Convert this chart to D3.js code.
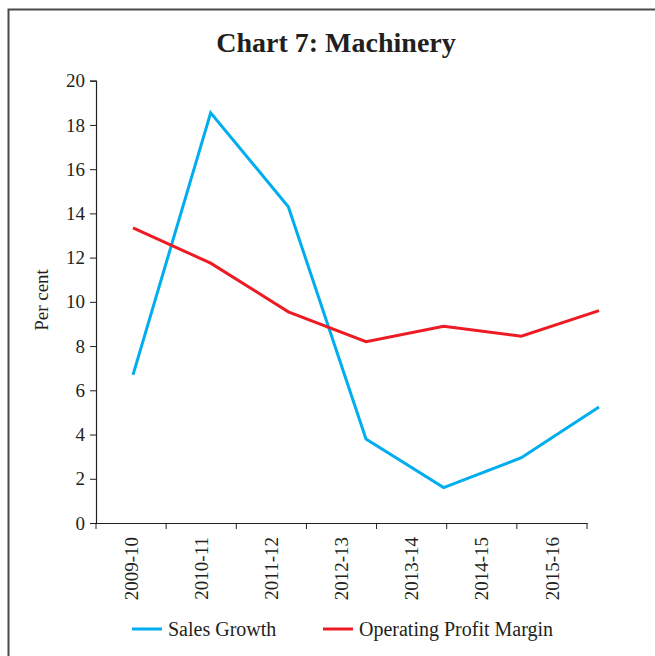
<!DOCTYPE html>
<html>
<head>
<meta charset="utf-8">
<script src="https://cdn.jsdelivr.net/npm/d3@7"></script>
<style>
  body { margin: 0; background: #fff; }
  text { font-family: "Liberation Serif", "DejaVu Serif", serif; fill: #231f20; }
</style>
</head>
<body>
<div id="chart"></div>
<script>
const years = ["2009-10", "2010-11", "2011-12", "2012-13", "2013-14", "2014-15", "2015-16"]
const salesGrowth = [6.7, 18.55, 14.3, 3.8, 1.6, 2.95, 5.25]
const profitMargin = [13.35, 11.75, 9.55, 8.2, 8.9, 8.45, 9.6]
const yTicks = [0, 2, 4, 6, 8, 10, 12, 14, 16, 18, 20]

const width = 655, height = 656
const plotLeft = 96, plotRight = 587, plotTop = 80.7, plotBottom = 523

const svg = d3.select("#chart").append("svg").attr("width", width).attr("height", height)

// frame (top and left edges only visible)
svg.append("path")
	.attr("d", `M8.5,${height} V9.5 H${width}`)
	.attr("fill", "none")
	.attr("stroke", "#4a4a4a")
	.attr("stroke-width", 2)

svg.append("text")
	.attr("x", 336)
	.attr("y", 52)
	.attr("text-anchor", "middle")
	.style("font-size", "28px")
	.style("font-weight", "bold")
	.text("Chart 7: Machinery")

const x = d3.scaleBand().domain(years).range([plotLeft, plotRight])
// the plotted lines in the original are spread a bit wider than the category axis
const xLine = d3.scalePoint().domain(years).range([133, 599])
const y = d3.scaleLinear().domain([0, 20]).range([plotBottom, plotTop])

const yAxis = svg.append("g")
	.attr("transform", `translate(${plotLeft},0)`)
	.call(d3.axisLeft(y).tickValues(yTicks).tickSize(6).tickPadding(5).tickFormat(d3.format("d")))
yAxis.select(".domain").attr("stroke", "#231f20").attr("stroke-width", 1.2)
yAxis.selectAll(".tick line").attr("stroke", "#231f20")
yAxis.selectAll("text").style("font-size", "19px")

const xAxis = svg.append("g")
	.attr("transform", `translate(0,${plotBottom})`)
	.call(d3.axisBottom(x).tickSize(0).tickPadding(0))
xAxis.select(".domain").attr("stroke", "#231f20").attr("stroke-width", 1.2)
xAxis.selectAll("text")
	.style("font-size", "19px")
	.attr("text-anchor", "end")
	.attr("transform", "rotate(-90)")
	.attr("x", -14)
	.attr("y", 0)
	.attr("dy", "0.35em")

// tick marks at band boundaries
xAxis.selectAll(".bound")
	.data(years.concat(["end"]))
	.enter()
	.append("line")
	.attr("x1", (d, i) => plotLeft + i * x.bandwidth())
	.attr("x2", (d, i) => plotLeft + i * x.bandwidth())
	.attr("y1", 0)
	.attr("y2", 6)
	.attr("stroke", "#231f20")

svg.append("text")
	.attr("transform", "translate(48,300) rotate(-90)")
	.attr("text-anchor", "middle")
	.style("font-size", "19px")
	.text("Per cent")

const series = [
	{ name: "Sales Growth", values: salesGrowth, color: "#00aeef" },
	{ name: "Operating Profit Margin", values: profitMargin, color: "#ed1c24" },
]

const line = d3.line()
	.x((d, i) => xLine(years[i]))
	.y(d => y(d))

svg.selectAll(".series")
	.data(series)
	.enter()
	.append("path")
	.attr("d", d => line(d.values))
	.attr("fill", "none")
	.attr("stroke", d => d.color)
	.attr("stroke-width", 3)

const legendX = [132, 323]
const legend = svg.selectAll(".legend")
	.data(series)
	.enter()
	.append("g")
	.attr("transform", (d, i) => `translate(${legendX[i]},629)`)

legend.append("line")
	.attr("x1", 0)
	.attr("x2", 30)
	.attr("stroke", d => d.color)
	.attr("stroke-width", 3)

legend.append("text")
	.attr("x", 36)
	.attr("dy", "0.35em")
	.style("font-size", "20px")
	.text(d => d.name)
</script>
</body>
</html>
